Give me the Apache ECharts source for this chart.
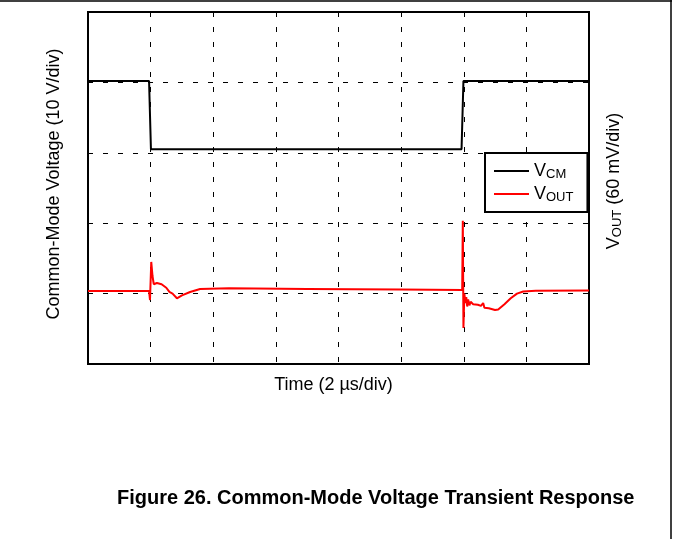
<!DOCTYPE html>
<html>
<head>
<meta charset="utf-8">
<script src="https://cdn.jsdelivr.net/npm/echarts@6/dist/echarts.min.js"></script>
<style>
  html, body { margin: 0; padding: 0; background: #fff; }
  #chart { width: 673px; height: 539px; }
</style>
</head>
<body>
<div id="chart"></div>
<script>
// time in us (2 us/div, 8 div)
const timeTicks = [0, 2, 4, 6, 8, 10, 12, 14, 16];

// common-mode voltage (V), 10 V/div
const vcmTime = [0, 1.95, 2.01, 11.93, 11.99, 16];
const vcmVal = [40.2, 40.2, 30.5, 30.5, 40.2, 40.2];

// output voltage (mV), 60 mV/div
const voutTime = [0, 1.5, 1.95, 1.98, 2.02, 2.06, 2.10, 2.2, 2.35, 2.5, 2.6, 2.65, 2.7, 2.84, 3.0, 3.26, 3.58, 4.5, 7, 10, 11.95,
  11.97, 11.99, 12.02, 12.05, 12.08, 12.11, 12.14, 12.18, 12.22, 12.3, 12.45, 12.55, 12.62, 12.66, 12.8, 13.0, 13.1, 13.3, 13.5, 13.7, 13.9, 14.3, 16];
const voutVal = [62.2, 62.2, 62.2, 54.5, 87, 75, 68, 69, 68, 65, 61.4, 63, 60, 56, 58.5, 61.4, 63.9, 64.5, 64, 63.5, 63.1,
  122, 30.7, 60, 52, 57, 49, 55, 50, 53, 51, 50.5, 49.5, 52, 48, 47.5, 46, 46.5, 51, 56, 60, 61.8, 62.4, 62.6];

const font = 'Liberation Sans, Arial, sans-serif';

const chart = echarts.init(document.getElementById('chart'));

const dashed = { show: true, lineStyle: { color: '#000', type: [5, 10], width: 1 } };

chart.setOption({
  animation: false,
  textStyle: { fontFamily: font },
  grid: {
    left: 88, top: 12, width: 501, height: 352,
    show: true, borderColor: '#000', borderWidth: 2, backgroundColor: 'transparent'
  },
  title: {
    text: 'Figure 26. Common-Mode Voltage Transient Response',
    left: 112, top: 483,
    textStyle: { fontFamily: font, fontSize: 20, fontWeight: 'bold', color: '#000' }
  },
  legend: {
    orient: 'vertical',
    left: 485, top: 153,
    padding: [9, 14, 8, 9],
    itemGap: 4,
    itemWidth: 35, itemHeight: 16,
    borderColor: '#000', borderWidth: 2, backgroundColor: '#fff',
    data: [
      { name: 'VCM', icon: 'path://M0,7H35V9H0Z' },
      { name: 'VOUT', icon: 'path://M0,7H35V9H0Z' }
    ],
    formatter: function (n) {
      return '{v|V}{s|' + n.slice(1) + '}';
    },
    textStyle: {
      rich: {
        v: { fontSize: 18, fontFamily: font, color: '#000' },
        s: { fontSize: 13, fontFamily: font, color: '#000', verticalAlign: 'bottom', padding: [7, 0, 0, 0] }
      }
    }
  },
  xAxis: {
    type: 'value', min: 0, max: 16, interval: 2,
    name: 'Time (2 \u00b5s/div)', nameLocation: 'middle', nameGap: 12,
    nameTextStyle: { fontSize: 18, fontFamily: font, color: '#000', verticalAlign: 'top', padding: [0, 10, 0, 0] },
    axisLine: { show: false }, axisTick: { show: false }, axisLabel: { show: false },
    splitLine: dashed
  },
  yAxis: [{
    type: 'value', min: 0, max: 50, interval: 10,
    name: 'Common-Mode Voltage (10 V/div)', nameLocation: 'middle', nameGap: 25,
    nameTextStyle: { fontSize: 18, fontFamily: font, color: '#000', padding: [0, 0, 0, 8] },
    axisLine: { show: false }, axisTick: { show: false }, axisLabel: { show: false },
    splitLine: dashed
  }, {
    type: 'value', min: 0, max: 300, interval: 60, position: 'right',
    name: '{v|V}{s|OUT}{v| (60 mV/div)}', nameLocation: 'middle', nameGap: 15, nameRotate: 90,
    nameTextStyle: {
      fontFamily: font, color: '#000', padding: [0, 0, 0, 14],
      rich: {
        v: { fontSize: 18, fontFamily: font, color: '#000' },
        s: { fontSize: 13, fontFamily: font, color: '#000', padding: [7, 0, 0, 0] }
      }
    },
    axisLine: { show: false }, axisTick: { show: false }, axisLabel: { show: false },
    splitLine: { show: false }
  }],
  series: [{
    name: 'VCM', type: 'line', yAxisIndex: 0, showSymbol: false,
    lineStyle: { color: '#000', width: 2 }, itemStyle: { color: '#000' },
    data: vcmTime.map((t, i) => [t, vcmVal[i]])
  }, {
    name: 'VOUT', type: 'line', yAxisIndex: 1, showSymbol: false,
    lineStyle: { color: '#ff0000', width: 2 }, itemStyle: { color: '#ff0000' },
    data: voutTime.map((t, i) => [t, voutVal[i]])
  }],
  graphic: [
    { type: 'line', shape: { x1: 0, y1: 1, x2: 672, y2: 1 }, style: { stroke: '#000', lineWidth: 1.5 } },
    { type: 'line', shape: { x1: 671, y1: 0, x2: 671, y2: 539 }, style: { stroke: '#000', lineWidth: 1.5 } }
  ]
});
</script>
</body>
</html>
